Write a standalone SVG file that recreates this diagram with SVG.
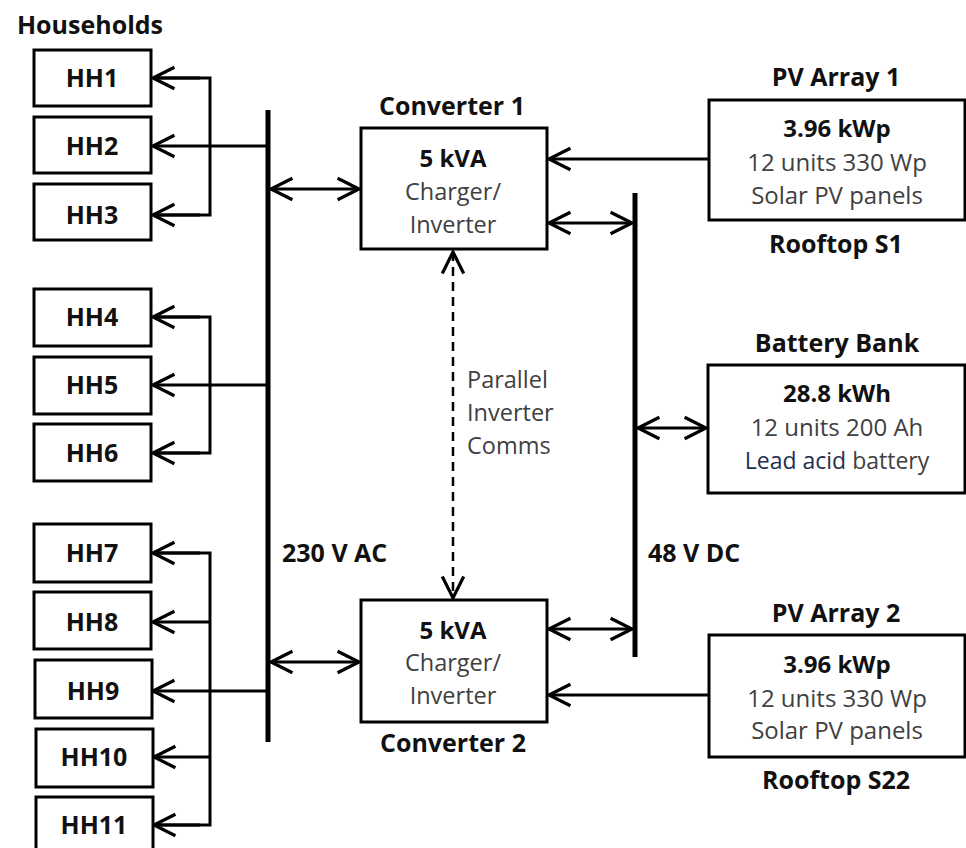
<svg xmlns="http://www.w3.org/2000/svg" width="966" height="848" viewBox="0 0 966 848">
<defs>
<style>
.box{fill:#fff;stroke:#000;stroke-width:3}
.ln{fill:none;stroke:#000;stroke-width:3}
.bus{fill:none;stroke:#000;stroke-width:5}
.dash{fill:none;stroke:#000;stroke-width:2.5;stroke-dasharray:9 6}
.b{font-family:"Open Sans","Liberation Sans",sans-serif;font-weight:bold;fill:#111;text-anchor:middle}
.r{font-family:"Open Sans","Liberation Sans",sans-serif;fill:#404040;text-anchor:middle}
.hh{font-size:25px}
.t{font-size:25px}
.body{font-size:24px}
.cv{font-size:23.5px}
.st{text-anchor:start}
</style>
<marker id="ah" markerUnits="userSpaceOnUse" markerWidth="30" markerHeight="30" viewBox="-24 -14 28 28" refX="0" refY="0" orient="auto-start-reverse">
<path d="M-20,-10 L0,0 L-20,10" fill="none" stroke="#000" stroke-width="3"/>
</marker>
</defs>
<rect width="966" height="848" fill="#fff"/>

<g id="connectors">
<line class="bus" x1="268" y1="110" x2="268" y2="742"/>
<line class="bus" x1="635" y1="193" x2="635" y2="657"/>
<line class="ln" x1="268" y1="146" x2="153" y2="146" marker-end="url(#ah)"/>
<polyline class="ln" points="153,78 210,78 210,215 153,215"/>
<line class="ln" x1="200" y1="78" x2="153" y2="78" marker-end="url(#ah)"/>
<line class="ln" x1="200" y1="215" x2="153" y2="215" marker-end="url(#ah)"/>
<line class="ln" x1="268" y1="385" x2="153" y2="385" marker-end="url(#ah)"/>
<polyline class="ln" points="153,317 210,317 210,453 153,453"/>
<line class="ln" x1="200" y1="317" x2="153" y2="317" marker-end="url(#ah)"/>
<line class="ln" x1="200" y1="453" x2="153" y2="453" marker-end="url(#ah)"/>
<line class="ln" x1="268" y1="691" x2="153" y2="691" marker-end="url(#ah)"/>
<polyline class="ln" points="153,553 210,553 210,825 153,825"/>
<line class="ln" x1="200" y1="553" x2="153" y2="553" marker-end="url(#ah)"/>
<line class="ln" x1="210" y1="622" x2="153" y2="622" marker-end="url(#ah)"/>
<line class="ln" x1="210" y1="757" x2="154" y2="757" marker-end="url(#ah)"/>
<line class="ln" x1="200" y1="825" x2="154" y2="825" marker-end="url(#ah)"/>
<line class="ln" x1="271" y1="189" x2="359" y2="189" marker-start="url(#ah)" marker-end="url(#ah)"/>
<line class="ln" x1="549" y1="223" x2="632" y2="223" marker-start="url(#ah)" marker-end="url(#ah)"/>
<line class="ln" x1="709" y1="159" x2="549" y2="159" marker-end="url(#ah)"/>
<line class="ln" x1="638" y1="428" x2="706" y2="428" marker-start="url(#ah)" marker-end="url(#ah)"/>
<line class="ln" x1="271" y1="662" x2="359" y2="662" marker-start="url(#ah)" marker-end="url(#ah)"/>
<line class="ln" x1="549" y1="629" x2="632" y2="629" marker-start="url(#ah)" marker-end="url(#ah)"/>
<line class="ln" x1="709" y1="695" x2="549" y2="695" marker-end="url(#ah)"/>
<line class="dash" x1="453" y1="252" x2="453" y2="598" marker-start="url(#ah)" marker-end="url(#ah)"/>
</g>

<text class="b t" x="90" y="34">Households</text>

<g id="hh1"><rect class="box" x="34" y="50" width="117" height="56"/><text class="b hh" x="92" y="87">HH1</text></g>
<g id="hh2"><rect class="box" x="34" y="117" width="117" height="56"/><text class="b hh" x="92" y="155">HH2</text></g>
<g id="hh3"><rect class="box" x="34" y="184" width="117" height="56"/><text class="b hh" x="92" y="224">HH3</text></g>
<g id="hh4"><rect class="box" x="34" y="289" width="117" height="57"/><text class="b hh" x="92" y="326">HH4</text></g>
<g id="hh5"><rect class="box" x="34" y="357" width="117" height="57"/><text class="b hh" x="92" y="394">HH5</text></g>
<g id="hh6"><rect class="box" x="34" y="424" width="117" height="57"/><text class="b hh" x="92" y="462">HH6</text></g>
<g id="hh7"><rect class="box" x="34" y="524" width="117" height="58"/><text class="b hh" x="92" y="562">HH7</text></g>
<g id="hh8"><rect class="box" x="34" y="592" width="117" height="57"/><text class="b hh" x="92" y="631">HH8</text></g>
<g id="hh9"><rect class="box" x="35" y="660" width="117" height="58"/><text class="b hh" x="93" y="700">HH9</text></g>
<g id="hh10"><rect class="box" x="36" y="729" width="117" height="58"/><text class="b hh" x="94" y="766">HH10</text></g>
<g id="hh11"><rect class="box" x="36" y="797" width="117" height="60"/><text class="b hh" x="94" y="834">HH11</text></g>

<g id="conv1">
<text class="b t" x="452" y="115">Converter 1</text>
<rect class="box" x="361" y="128" width="186" height="121"/>
<text class="b body" x="453" y="167">5 kVA</text>
<text class="r cv" x="453" y="200">Charger/</text>
<text class="r cv" x="453" y="233">Inverter</text>
</g>
<g id="conv2">
<rect class="box" x="361" y="600" width="186" height="122"/>
<text class="b body" x="453" y="639">5 kVA</text>
<text class="r cv" x="453" y="671">Charger/</text>
<text class="r cv" x="453" y="704">Inverter</text>
<text class="b t" x="453" y="752">Converter 2</text>
</g>
<g id="comms">
<text class="r cv st" x="467" y="388">Parallel</text>
<text class="r cv st" x="467" y="421">Inverter</text>
<text class="r cv st" x="467" y="454">Comms</text>
</g>
<text class="b t st" x="282" y="562">230 V AC</text>
<text class="b t st" x="648" y="562">48 V DC</text>

<g id="pv1">
<text class="b t" x="836" y="86">PV Array 1</text>
<rect class="box" x="709" y="100" width="256" height="120"/>
<text class="b body" x="837" y="137">3.96 kWp</text>
<text class="r body" x="837" y="171">12 units 330 Wp</text>
<text class="r body" x="837" y="204">Solar PV panels</text>
<text class="b t" x="836" y="253">Rooftop S1</text>
</g>
<g id="battery">
<text class="b t" x="837" y="352">Battery Bank</text>
<rect class="box" x="708" y="365" width="257" height="128"/>
<text class="b body" x="837" y="402">28.8 kWh</text>
<text class="r body" x="837" y="436">12 units 200 Ah</text>
<text class="r" x="837" y="469" style="font-size:23px"><tspan fill="#1f2f4f">Lead acid</tspan> battery</text>
</g>
<g id="pv2">
<text class="b t" x="836" y="622">PV Array 2</text>
<rect class="box" x="709" y="635" width="256" height="122"/>
<text class="b body" x="837" y="673">3.96 kWp</text>
<text class="r body" x="837" y="707">12 units 330 Wp</text>
<text class="r body" x="837" y="739">Solar PV panels</text>
<text class="b t" x="836" y="789">Rooftop S22</text>
</g>
</svg>
